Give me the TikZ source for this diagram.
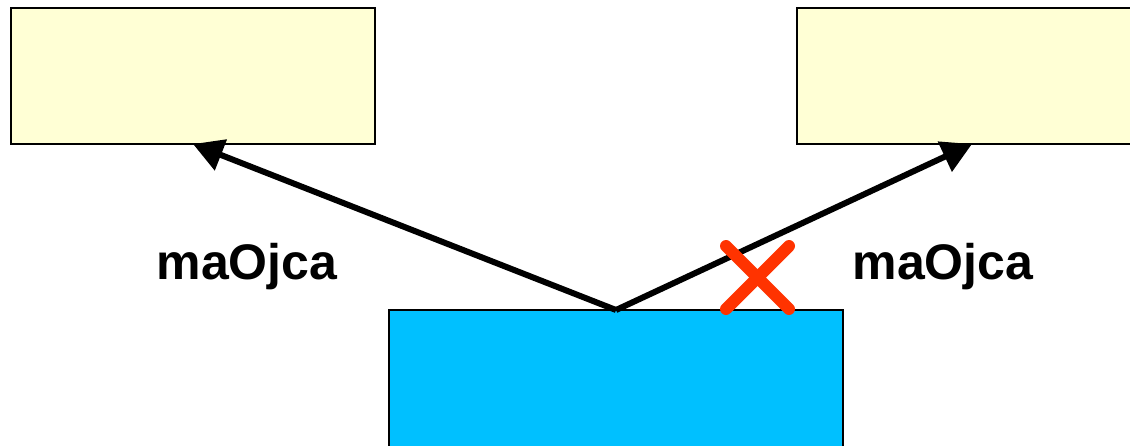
\documentclass[tikz,border=0pt]{standalone}
\usepackage{fontspec}
\setmainfont{Liberation Sans}
\usetikzlibrary{arrows.meta}
\definecolor{boxyellow}{HTML}{FFFFD5}
\definecolor{boxcyan}{HTML}{00C0FF}
\definecolor{xred}{HTML}{FF3300}
\tikzset{
  ybox/.style={draw=black, line width=2pt, fill=boxyellow, minimum width=364pt, minimum height=136pt, inner sep=0pt, outer sep=0pt},
  cbox/.style={draw=black, line width=2pt, fill=boxcyan, minimum width=454pt, minimum height=140pt, inner sep=0pt, outer sep=0pt},
  conn/.style={line width=6pt, -{Triangle[length=30pt,width=32pt]}},
  lbl/.style={font=\fontsize{50}{50}\selectfont\bfseries, anchor=base, inner sep=0pt},
  xmark/.style={line width=12pt, xred, line cap=round}
}
\begin{document}
\begin{tikzpicture}[x=1pt,y=-1pt]
\useasboundingbox (0,0) rectangle (1130,445);
\clip (0,0) rectangle (1130,445);
\fill[white] (0,0) rectangle (1130,445);
\node[ybox] (L) at (193,76) {};
\node[ybox, minimum width=350pt] (R) at (972,76) {};
\node[cbox] (B) at (616,380) {};
\draw[conn] (B.north) -- (L.south);
\draw[conn] (B.north) -- (R.south);
\coordinate (xa) at (726,246);
\coordinate (xb) at (789,309);
\coordinate (xc) at (789,246);
\coordinate (xd) at (726,309);
\draw[xmark] (xa) -- (xb);
\draw[xmark] (xc) -- (xd);
\node[lbl] (t1) at (247,279) {maOjca};
\node[lbl] (t2) at (943,279) {maOjca};
\end{tikzpicture}
\end{document}
